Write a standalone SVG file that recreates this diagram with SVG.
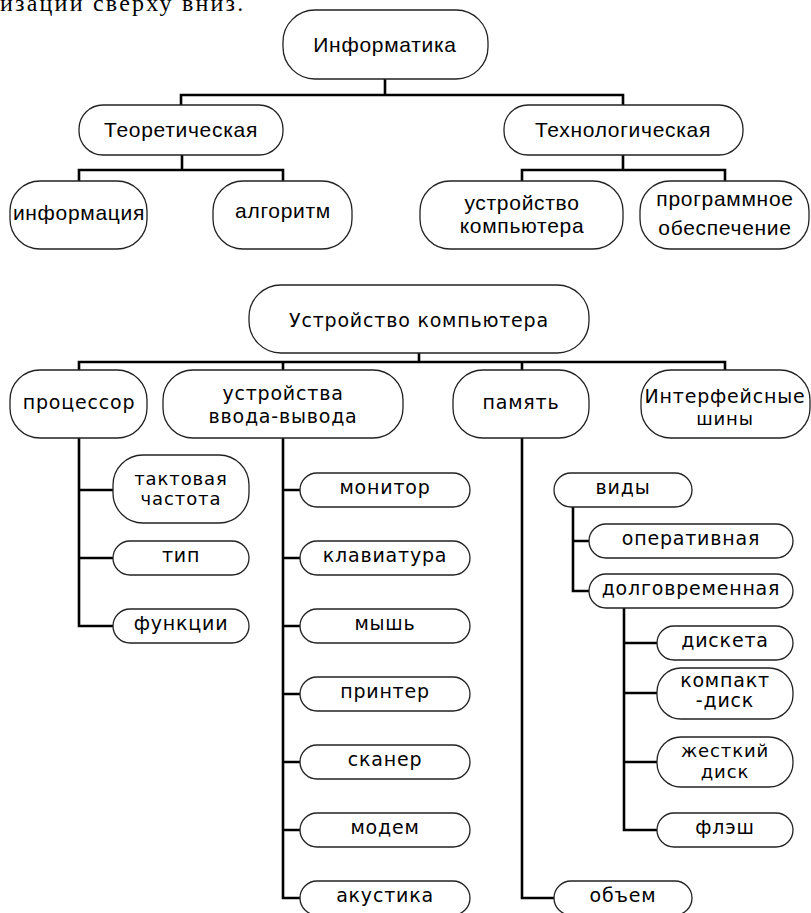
<svg xmlns="http://www.w3.org/2000/svg" width="811" height="913" viewBox="0 0 811 913">
<style>
.b{fill:#fff;stroke:#222;stroke-width:1.3}
.c{fill:none;stroke:#000;stroke-width:2.6;stroke-linecap:square}
.t{font-family:"Liberation Sans",Arial,sans-serif;font-size:21px;letter-spacing:0.7px;fill:#000;text-anchor:middle}
.s{font-family:"DejaVu Sans","Liberation Sans",sans-serif;font-size:19px;letter-spacing:0.8px;fill:#000;text-anchor:middle}
.s2{font-family:"DejaVu Sans","Liberation Sans",sans-serif;font-size:18px;letter-spacing:0.9px;fill:#000;text-anchor:middle}
.h{font-family:"Liberation Serif","Times New Roman",serif;font-size:24px;letter-spacing:2.2px;fill:#000}
</style>
<text class="h" x="0" y="11">изации сверху вниз.</text>
<g id="connectors">
<path class="c" d="M385,79V95M181,95H623M181,95V105M623,95V105"/>
<path class="c" d="M182,155V170M79,170H283M79,170V181M283,170V181"/>
<path class="c" d="M623,155V170M522,170H725M522,170V181M725,170V181"/>
<path class="c" d="M419,353V362M79,362H725M79,362V370M283,362V370M522,362V370M725,362V370"/>
<path class="c" d="M79,438V626H113M79,490H113M79,558H113"/>
<path class="c" d="M283,438V898H300M283,490H300M283,558H300M283,626H300M283,694H300M283,762H300M283,830H300"/>
<path class="c" d="M522,438V898H554"/>
<path class="c" d="M573,507V591H589M573,541H589"/>
<path class="c" d="M624,608V830H657M624,643H657M624,693H657M624,762H657"/>
</g>
<g id="informatika"><rect class="b" x="283" y="10" width="205" height="69" rx="32"/><text class="t" x="385" y="52">Информатика</text></g>
<g id="teor"><rect class="b" x="79" y="105" width="204" height="50" rx="24"/><text class="t" x="181" y="137">Теоретическая</text></g>
<g id="tech"><rect class="b" x="504" y="105" width="239" height="50" rx="24"/><text class="t" x="623" y="137">Технологическая</text></g>
<g id="inform"><rect class="b" x="10" y="181" width="137" height="68" rx="30"/><text class="t" x="79" y="220">информация</text></g>
<g id="algo"><rect class="b" x="213" y="181" width="139" height="68" rx="30"/><text class="t" x="283" y="218">алгоритм</text></g>
<g id="ustr-top"><rect class="b" x="420" y="181" width="203" height="68" rx="30"/><text class="t" x="522" y="210">устройство</text><text class="t" x="522" y="233">компьютера</text></g>
<g id="po"><rect class="b" x="640" y="181" width="169" height="68" rx="30"/><text class="t" x="725" y="206">программное</text><text class="t" x="725" y="235">обеспечение</text></g>

<g id="ustr"><rect class="b" x="249" y="285" width="340" height="68" rx="32"/><text class="s" x="419" y="327">Устройство компьютера</text></g>
<g id="proc"><rect class="b" x="10" y="370" width="137" height="68" rx="30"/><text class="s" x="79" y="409">процессор</text></g>
<g id="io"><rect class="b" x="163" y="370" width="240" height="68" rx="30"/><text class="s" x="283" y="400">устройства</text><text class="s" x="283" y="423">ввода-вывода</text></g>
<g id="mem"><rect class="b" x="453" y="370" width="136" height="68" rx="30"/><text class="s" x="521" y="409">память</text></g>
<g id="bus"><rect class="b" x="641" y="370" width="169" height="68" rx="30"/><text class="s" x="725" y="403">Интерфейсные</text><text class="s2" x="725" y="425">шины</text></g>

<g id="freq"><rect class="b" x="113" y="455" width="136" height="68" rx="30"/><text class="s2" x="181" y="485">тактовая</text><text class="s2" x="181" y="505">частота</text></g>
<g id="type"><rect class="b" x="113" y="541" width="136" height="34" rx="17"/><text class="s" x="181" y="562">тип</text></g>
<g id="func"><rect class="b" x="113" y="609" width="136" height="34" rx="17"/><text class="s" x="181" y="630">функции</text></g>

<g id="monitor"><rect class="b" x="300" y="473" width="170" height="34" rx="17"/><text class="s" x="385" y="494">монитор</text></g>
<g id="kbd"><rect class="b" x="300" y="541" width="170" height="34" rx="17"/><text class="s" x="385" y="562">клавиатура</text></g>
<g id="mouse"><rect class="b" x="300" y="609" width="170" height="34" rx="17"/><text class="s" x="385" y="630">мышь</text></g>
<g id="printer"><rect class="b" x="300" y="677" width="170" height="34" rx="17"/><text class="s" x="385" y="698">принтер</text></g>
<g id="scanner"><rect class="b" x="300" y="745" width="170" height="34" rx="17"/><text class="s" x="385" y="766">сканер</text></g>
<g id="modem"><rect class="b" x="300" y="813" width="170" height="34" rx="17"/><text class="s" x="385" y="834">модем</text></g>
<g id="audio"><rect class="b" x="300" y="881" width="170" height="34" rx="17"/><text class="s" x="385" y="902">акустика</text></g>

<g id="kinds"><rect class="b" x="554" y="473" width="138" height="34" rx="17"/><text class="s" x="623" y="494">виды</text></g>
<g id="ram"><rect class="b" x="589" y="524" width="204" height="34" rx="17"/><text class="s" x="691" y="545">оперативная</text></g>
<g id="longterm"><rect class="b" x="589" y="574" width="204" height="34" rx="17"/><text class="s" x="691" y="595">долговременная</text></g>
<g id="floppy"><rect class="b" x="657" y="626" width="136" height="34" rx="17"/><text class="s" x="725" y="647">дискета</text></g>
<g id="cd"><rect class="b" x="657" y="668" width="136" height="51" rx="24"/><text class="s" x="725" y="687">компакт</text><text class="s" x="725" y="707">-диск</text></g>
<g id="hdd"><rect class="b" x="657" y="737" width="136" height="50" rx="24"/><text class="s2" x="725" y="757">жесткий</text><text class="s2" x="725" y="778">диск</text></g>
<g id="flash"><rect class="b" x="657" y="813" width="136" height="34" rx="17"/><text class="s" x="725" y="834">флэш</text></g>
<g id="volume"><rect class="b" x="554" y="881" width="138" height="34" rx="17"/><text class="s" x="623" y="902">объем</text></g>
</svg>
